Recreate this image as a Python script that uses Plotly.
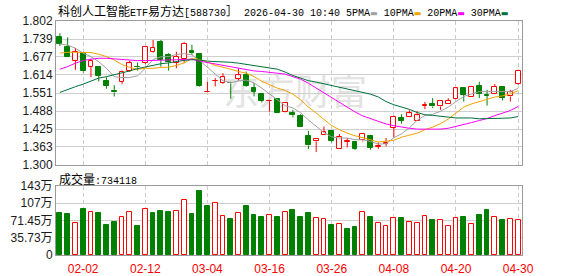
import plotly.graph_objects as go

# ---------------- data ----------------
dates = ["2026-01-28", "2026-01-29", "2026-01-30", "2026-02-02", "2026-02-03", "2026-02-04",
         "2026-02-05", "2026-02-06", "2026-02-09", "2026-02-10", "2026-02-11", "2026-02-12",
         "2026-02-13", "2026-02-24", "2026-02-25", "2026-02-26", "2026-02-27", "2026-03-02",
         "2026-03-03", "2026-03-04", "2026-03-05", "2026-03-06", "2026-03-09", "2026-03-10",
         "2026-03-11", "2026-03-12", "2026-03-13", "2026-03-16", "2026-03-17", "2026-03-18",
         "2026-03-19", "2026-03-20", "2026-03-23", "2026-03-24", "2026-03-25", "2026-03-26",
         "2026-03-27", "2026-03-30", "2026-03-31", "2026-04-01", "2026-04-02", "2026-04-03",
         "2026-04-07", "2026-04-08", "2026-04-09", "2026-04-10", "2026-04-13", "2026-04-14",
         "2026-04-15", "2026-04-16", "2026-04-17", "2026-04-20", "2026-04-21", "2026-04-22",
         "2026-04-23", "2026-04-24", "2026-04-27", "2026-04-28", "2026-04-29", "2026-04-30"]

open_ = [1.747, 1.710, 1.664, 1.690, 1.643, 1.641, 1.593, 1.558, 1.589, 1.629,
         1.643, 1.655, 1.695, 1.728, 1.684, 1.656, 1.669, 1.699, 1.687, 1.555,
         1.593, 1.585, 1.587, 1.600, 1.613, 1.568, 1.547, 1.5225, 1.530, 1.486,
         1.481, 1.472, 1.400, 1.382, 1.403, 1.419, 1.356, 1.380, 1.380, 1.386,
         1.402, 1.3635, 1.374, 1.429, 1.464, 1.469, 1.454, 1.506, 1.513, 1.504,
         1.512, 1.530, 1.567, 1.537, 1.576, 1.5445, 1.548, 1.571, 1.539, 1.582]
high = [1.759, 1.745, 1.708, 1.693, 1.671, 1.642, 1.606, 1.578, 1.629, 1.664,
        1.657, 1.712, 1.736, 1.736, 1.690, 1.695, 1.729, 1.719, 1.689, 1.591,
        1.603, 1.620, 1.591, 1.637, 1.626, 1.587, 1.548, 1.524, 1.531, 1.518,
        1.492, 1.477, 1.419, 1.394, 1.434, 1.419, 1.408, 1.394, 1.382, 1.411,
        1.405, 1.379, 1.394, 1.472, 1.477, 1.491, 1.488, 1.520, 1.533, 1.524,
        1.533, 1.568, 1.567, 1.576, 1.590, 1.562, 1.582, 1.572, 1.562, 1.632]
low = [1.715, 1.677, 1.632, 1.622, 1.606, 1.591, 1.566, 1.539, 1.582, 1.624,
       1.629, 1.652, 1.692, 1.643, 1.629, 1.637, 1.655, 1.684, 1.573, 1.554,
       1.574, 1.582, 1.531, 1.594, 1.573, 1.539, 1.518, 1.486, 1.482, 1.483,
       1.466, 1.434, 1.356, 1.345, 1.403, 1.379, 1.356, 1.361, 1.353, 1.382,
       1.353, 1.356, 1.365, 1.397, 1.444, 1.467, 1.454, 1.495, 1.498, 1.492,
       1.512, 1.529, 1.521, 1.537, 1.533, 1.507, 1.547, 1.525, 1.521, 1.580]
close = [1.722, 1.678, 1.693, 1.626, 1.663, 1.612, 1.577, 1.553, 1.624, 1.655,
         1.640, 1.711, 1.709, 1.666, 1.658, 1.678, 1.722, 1.690, 1.576, 1.556,
         1.594, 1.606, 1.585, 1.613, 1.576, 1.556, 1.524, 1.524, 1.483, 1.516,
         1.473, 1.434, 1.368, 1.392, 1.416, 1.385, 1.397, 1.3825, 1.357, 1.408,
         1.361, 1.3655, 1.3765, 1.469, 1.455, 1.480, 1.473, 1.5085, 1.504, 1.524,
         1.524, 1.567, 1.545, 1.573, 1.548, 1.541, 1.573, 1.535, 1.553, 1.629]

ma5 = [1.722, 1.718, 1.707, 1.690, 1.678, 1.660, 1.637, 1.608, 1.605, 1.605,
       1.611, 1.637, 1.668, 1.677, 1.678, 1.685, 1.688, 1.684, 1.664, 1.640,
       1.617, 1.594, 1.587, 1.593, 1.596, 1.586, 1.568, 1.548, 1.527, 1.507,
       1.499, 1.482, 1.457, 1.435, 1.413, 1.398, 1.394, 1.394, 1.388, 1.388,
       1.382, 1.373, 1.374, 1.395, 1.409, 1.430, 1.456, 1.473, 1.477, 1.487,
       1.502, 1.521, 1.539, 1.548, 1.556, 1.556, 1.556, 1.554, 1.556, 1.567]
ma10 = [1.690, 1.693, 1.693, 1.693, 1.692, 1.686, 1.678, 1.666, 1.650, 1.640,
        1.634, 1.637, 1.637, 1.640, 1.641, 1.647, 1.656, 1.672, 1.667, 1.659,
        1.647, 1.641, 1.633, 1.626, 1.620, 1.608, 1.592, 1.580, 1.568, 1.560,
        1.547, 1.527, 1.502, 1.481, 1.458, 1.437, 1.423, 1.411, 1.402, 1.396,
        1.388, 1.380, 1.382, 1.386, 1.397, 1.404, 1.411, 1.423, 1.432, 1.444,
        1.460, 1.481, 1.502, 1.513, 1.521, 1.530, 1.537, 1.541, 1.548, 1.559]
ma20 = [1.634, 1.643, 1.655, 1.664, 1.669, 1.672, 1.672, 1.670, 1.666, 1.664,
        1.664, 1.664, 1.664, 1.664, 1.666, 1.667, 1.669, 1.669, 1.662, 1.657,
        1.652, 1.647, 1.643, 1.638, 1.632, 1.628, 1.626, 1.624, 1.620, 1.617,
        1.608, 1.599, 1.585, 1.568, 1.551, 1.533, 1.516, 1.502, 1.485, 1.471,
        1.461, 1.452, 1.443, 1.437, 1.432, 1.428, 1.425, 1.425, 1.425, 1.425,
        1.428, 1.434, 1.440, 1.448, 1.455, 1.462, 1.472, 1.481, 1.490, 1.504]
ma30 = [1.553, 1.564, 1.573, 1.582, 1.593, 1.603, 1.608, 1.614, 1.620, 1.628,
        1.636, 1.642, 1.649, 1.653, 1.656, 1.661, 1.665, 1.667, 1.666, 1.662,
        1.661, 1.660, 1.658, 1.655, 1.651, 1.646, 1.641, 1.637, 1.634, 1.624,
        1.612, 1.603, 1.594, 1.589, 1.583, 1.577, 1.571, 1.565, 1.560, 1.554,
        1.547, 1.537, 1.521, 1.510, 1.502, 1.494, 1.483, 1.475, 1.473, 1.471,
        1.467, 1.464, 1.464, 1.464, 1.461, 1.461, 1.461, 1.463, 1.464, 1.469]

# volume in 万 (10k) units
volume = [87.7, 85.6, 66.3, 95.3, 89.1, 87.7, 62.8, 69.0, 78.8, 89.1,
          60.7, 95.3, 87.7, 91.8, 89.8, 91.2, 114.0, 85.6, 133.3, 102.2,
          107.8, 80.8, 75.3, 87.0, 102.2, 83.5, 79.4, 82.9, 79.4, 89.1,
          93.9, 78.8, 87.7, 76.7, 74.6, 62.8, 64.2, 53.9, 58.0, 89.1,
          79.4, 67.0, 60.1, 76.7, 77.4, 68.4, 67.0, 80.8, 73.2, 72.5,
          60.1, 76.7, 79.4, 64.2, 83.5, 93.9, 78.8, 73.2, 74.6, 73.41]
# 1 = up (red hollow), 0 = down (green)
volume_up = [0, 0, 1, 0, 1, 0, 0, 0, 1, 1, 0, 1, 0, 0, 0, 1, 1, 0, 0, 0,
             1, 1, 0, 1, 0, 0, 0, 1, 0, 1, 0, 0, 0, 1, 1, 0, 1, 0, 0, 1,
             0, 1, 1, 1, 0, 1, 1, 1, 0, 1, 1, 1, 0, 1, 0, 0, 1, 0, 1, 1]

price_tick_labels = ["1.300", "1.363", "1.425", "1.488", "1.551", "1.614", "1.677", "1.739", "1.802"]
vol_tick_vals = [0, 35.725, 71.45, 107.175, 142.9]
vol_tick_labels = ["0", "35.73万", "71.45万", "107万", "143万"]
date_tick_labels = ["02-02", "02-12", "03-04", "03-16", "03-26", "04-08", "04-20", "04-30"]

title_name = "科创人工智能ETF易方达[588730]"
title_time = "2026-04-30 10:40"
ma_names = ["5PMA", "10PMA", "20PMA", "30PMA"]
last_volume_text = "734118"

# ---------------- styles ----------------
RED = "#ff0000"
GREEN = "#008000"
MA_COLORS = ["#a0a0a0", "#f5a300", "#ff00ff", "#00703a"]
W, H = 578, 276
PL, PR = 56, 522
PRICE_TOP, PRICE_BOT = 21, 165
VOL_TOP, VOL_BOT = 186, 255
BODY_W = 0.62

xs = list(range(len(dates)))
tick_pos = [dates.index("2026-" + t) for t in date_tick_labels]

fig = go.Figure()

# watermark behind data
fig.add_shape(type="rect", xref="paper", yref="paper",
              x0=200 / W, x1=390 / W, y0=1 - 115 / H, y1=1 - 75 / H,
              line=dict(width=0), fillcolor="rgba(0,0,0,0)", layer="below",
              label=dict(text="东方财富", font=dict(family="Noto Sans CJK SC", size=36, color="#e3e3e3"),
                         textposition="middle center"))

# candle bodies
for up, fill, col in [(True, "white", RED), (False, GREEN, GREEN)]:
    bx, bb, bh = [], [], []
    wx, wy = [], []
    for i in xs:
        o, h, l, c = open_[i], high[i], low[i], close[i]
        is_up = c >= o
        if is_up != up:
            continue
        top, bot = max(o, c), min(o, c)
        bx.append(i)
        bb.append(bot)
        bh.append(max(top - bot, 0.0006))
        if h > top:
            wx += [i, i, None]
            wy += [h, top, None]
        if l < bot:
            wx += [i, i, None]
            wy += [bot, l, None]
    fig.add_trace(go.Scatter(x=wx, y=wy, mode="lines", line=dict(color=col, width=1),
                             xaxis="x", yaxis="y", hoverinfo="skip"))
    fig.add_trace(go.Bar(x=bx, y=bh, base=bb, width=BODY_W,
                         marker=dict(color=fill, line=dict(color=col, width=1)),
                         xaxis="x", yaxis="y", hoverinfo="skip"))

# moving averages
for vals, col in zip([ma5, ma10, ma20, ma30], MA_COLORS):
    fig.add_trace(go.Scatter(x=xs, y=vals, mode="lines", line=dict(color=col, width=1),
                             xaxis="x", yaxis="y", hoverinfo="skip"))

# volume bars
for up, fill, col in [(1, "white", RED), (0, GREEN, GREEN)]:
    vx = [i for i in xs if volume_up[i] == up]
    vy = [volume[i] for i in vx]
    fig.add_trace(go.Bar(x=vx, y=vy, width=BODY_W,
                         marker=dict(color=fill, line=dict(color=col, width=1)),
                         xaxis="x2", yaxis="y2", hoverinfo="skip"))

tickfont = dict(family="Liberation Sans, Noto Sans CJK SC", size=12, color="#1a1a1a")
common_x = dict(domain=[PL / W, PR / W], range=[-0.5, len(dates) - 0.5], tickmode="array",
                tickvals=tick_pos, showgrid=True, gridcolor="#cccccc", griddash="4px,3px",
                gridwidth=1, zeroline=False, showline=True, mirror=True, linecolor="#9a9a9a",
                linewidth=1, fixedrange=True, automargin=False)
common_y = dict(showgrid=True, gridcolor="#cfcfcf", gridwidth=1, zeroline=False, showline=True,
                mirror=True, linecolor="#9a9a9a", linewidth=1, ticks="", tickfont=tickfont,
                tickmode="array", fixedrange=True, automargin=False)

fig.update_layout(
    width=W, height=H, margin=dict(l=0, r=0, t=0, b=0, autoexpand=False),
    paper_bgcolor="white", plot_bgcolor="white", showlegend=False,
    barmode="overlay", bargap=0, hovermode=False,
    xaxis=dict(anchor="y", showticklabels=False, ticks="", **common_x),
    yaxis=dict(domain=[1 - PRICE_BOT / H, 1 - PRICE_TOP / H], range=[1.300, 1.802],
               tickvals=[float(t) for t in price_tick_labels], ticktext=price_tick_labels,
               anchor="x", **common_y),
    xaxis2=dict(anchor="y2", showticklabels=True, ticktext=date_tick_labels,
                ticks="outside", ticklen=3, tickcolor="rgba(0,0,0,0)",
                tickfont=dict(family="Liberation Sans", size=12, color=RED), **common_x),
    yaxis2=dict(domain=[1 - VOL_BOT / H, 1 - VOL_TOP / H], range=[0, 142.9],
                tickvals=vol_tick_vals, ticktext=vol_tick_labels, anchor="x2", **common_y),
)


def cjk(s, size=12):
    return f'<span style="font-family:Noto Sans CJK SC;font-size:{size}px">{s}</span>'


def marker(col):
    return f'<span style="font-family:DejaVu Sans;font-size:8px;fill:{col}">▬</span>'


name_cjk1 = title_name[:6]
title_html = (cjk(name_cjk1) + "ETF" + cjk("易方达") + "[588730" + cjk("］") + " " + title_time + " ")
for n, c in zip(ma_names, MA_COLORS):
    title_html += n + marker(c) + " "

fig.add_annotation(xref="paper", yref="paper", x=PL / W, y=1 - 10 / H, xanchor="left",
                   yanchor="middle", showarrow=False, align="left", text=title_html,
                   font=dict(family="Liberation Mono", size=10, color="#000000"))
fig.add_annotation(xref="paper", yref="paper", x=57 / W, y=1 - 178 / H, xanchor="left",
                   yanchor="middle", showarrow=False, align="left",
                   text=cjk("成交量") + ":" + last_volume_text,
                   font=dict(family="Liberation Mono", size=10, color="#000000"))

fig.write_html("out.html")
